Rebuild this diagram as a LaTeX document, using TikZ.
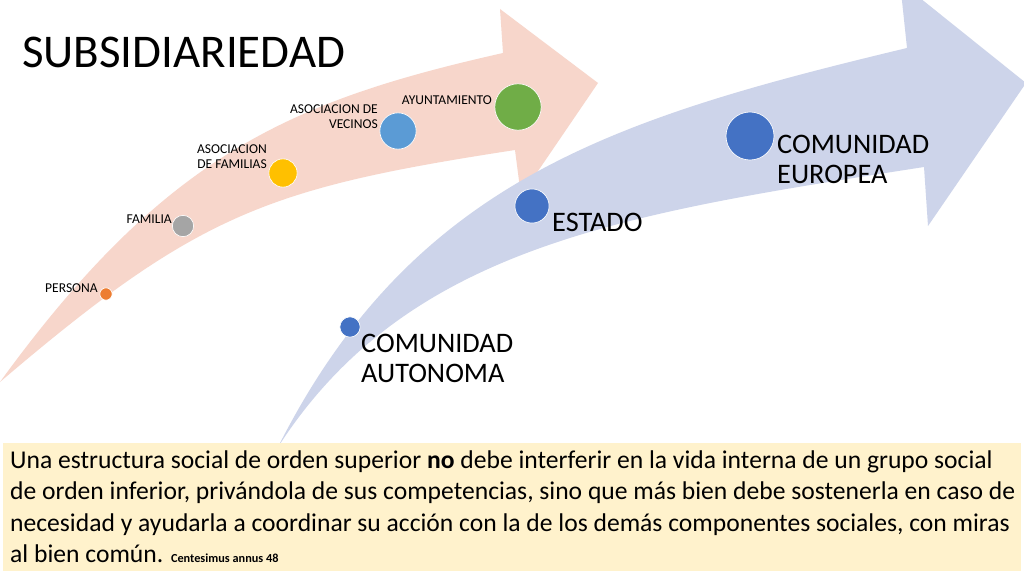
\documentclass[tikz,border=0pt]{standalone}
\usepackage{fontspec}
\setmainfont{Carlito}
\usetikzlibrary{positioning}
\definecolor{arrowpink}{HTML}{F7D6CB}
\definecolor{arrowblue}{HTML}{CDD4EA}
\definecolor{quotebg}{HTML}{FFF2CC}
\definecolor{dotorange}{HTML}{ED7D31}
\definecolor{dotgray}{HTML}{A5A5A5}
\definecolor{dotgold}{HTML}{FFC000}
\definecolor{dotsky}{HTML}{5B9BD5}
\definecolor{dotgreen}{HTML}{70AD47}
\definecolor{dotblue}{HTML}{4472C4}

\begin{document}
\begin{tikzpicture}[x=0.9375pt, y=-0.9375pt,
  dot/.style={circle, draw=white, line width=0.6pt, inner sep=0pt},
  smalllbl/.style={inner sep=0pt, align=right, font=\fontsize{12.7}{14}\selectfont},
  biglbl/.style={inner sep=0pt, align=left, font=\fontsize{26.5}{28}\selectfont}]
  \useasboundingbox (0,0) rectangle (1024,576);
  \fill[white] (0,0) rectangle (1024,576);

  % Curved arrows
  \fill[arrowpink] (0,382) .. controls (165,155) and (290,101) .. (503,53)
    -- (500,9) -- (598,83) -- (521,196) -- (515,150)
    .. controls (268,188) and (198,213) .. (0,382) -- cycle;
  \fill[arrowblue] (278,447) .. controls (413,180) and (615,118) .. (907,48)
    -- (900,-18) -- (1026,83) -- (928,226) -- (924,167)
    .. controls (628,213) and (408,245) .. (278,447) -- cycle;

  \node[anchor=base west, inner sep=0pt, font=\fontsize{44}{44}\selectfont] (title) at (22,68) {SUBSIDIARIEDAD};

  % Steps on the pink arrow
  \node[dot, fill=dotorange, minimum size=11.5pt] (persona) at (106,294) {};
  \node[dot, fill=dotgray, minimum size=20pt] (familia) at (183,226) {};
  \node[dot, fill=dotgold, minimum size=26.5pt] (asocfam) at (283,173) {};
  \node[dot, fill=dotsky, minimum size=34pt] (vecinos) at (398,131) {};
  \node[dot, fill=dotgreen, minimum size=43.5pt] (ayunt) at (518,107) {};

  \node[smalllbl, anchor=base east] (personalbl) at (98,292) {PERSONA};
  \node[smalllbl, anchor=base east] (familialbl) at (172,223) {FAMILIA};
  \node[smalllbl, anchor=south east] (asocfamlbl) at (267,169) {ASOCIACION\\DE FAMILIAS};
  \node[smalllbl, anchor=south east] (vecinoslbl) at (378,129) {ASOCIACION DE\\VECINOS};
  \node[smalllbl, anchor=base east] (ayuntlbl) at (492,105) {AYUNTAMIENTO};

  % Steps on the blue arrow
  \node[dot, fill=dotblue, minimum size=19pt] (autonoma) at (350,327) {};
  \node[dot, fill=dotblue, minimum size=32pt] (estado) at (532,206) {};
  \node[dot, fill=dotblue, minimum size=45pt] (europea) at (750,136) {};

  \node[biglbl, anchor=south west] (autonomalbl) at (361,383) {COMUNIDAD\\AUTONOMA};
  \node[biglbl, anchor=base west] (estadolbl) at (552,231) {ESTADO};
  \node[biglbl, anchor=south west] (europealbl) at (777,184) {COMUNIDAD\\EUROPEA};

  % Quote box
  \fill[quotebg] (3,443) rectangle (1021,571);
  \node[anchor=south west, inner sep=0pt, align=left, font=\fontsize{24}{29.5}\selectfont] (quote) at (10,563)
    {Una estructura social de orden superior \textbf{no} debe interferir en la vida interna de un grupo social\\
     de orden inferior, privándola de sus competencias, sino que más bien debe sostenerla en caso de\\
     necesidad y ayudarla a coordinar su acción con la de los demás componentes sociales, con miras\\
     al bien común. {\fontsize{11.5}{11.5}\selectfont\bfseries Centesimus annus 48}};
\end{tikzpicture}
\end{document}
